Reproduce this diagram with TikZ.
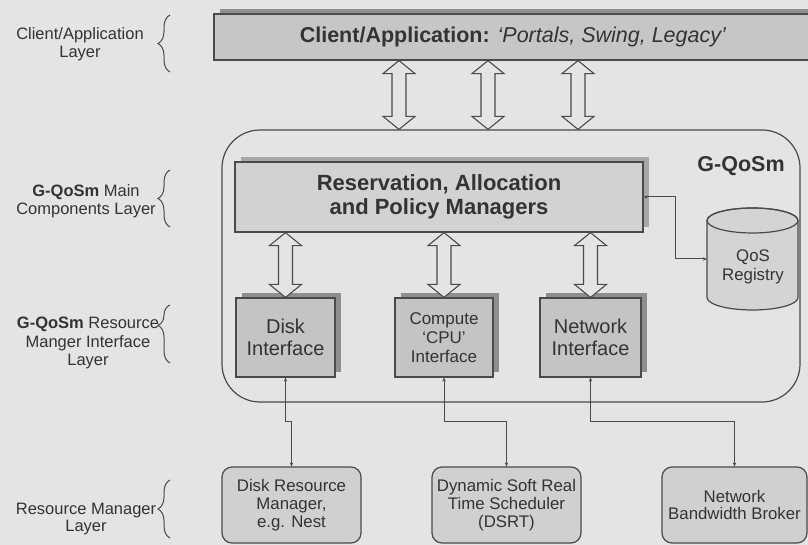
\documentclass[tikz,border=0pt]{standalone}
\usepackage{fontspec}
\setmainfont{Liberation Sans}
\usetikzlibrary{arrows.meta,decorations.pathreplacing,calc}

\definecolor{paper}{HTML}{E4E4E4}
\definecolor{ink}{HTML}{333333}
\definecolor{edge}{HTML}{4A4A4A}
\definecolor{clientfill}{HTML}{C6C6C6}
\definecolor{resfill}{HTML}{D2D2D2}
\definecolor{ifacefill}{HTML}{C4C4C4}
\definecolor{rmfill}{HTML}{D0D0D0}
\definecolor{cylfill}{HTML}{D4D4D4}
\definecolor{shadowdark}{HTML}{8E8E8E}
\definecolor{shadowlight}{HTML}{A8A8A8}

\newcommand\fs[2]{\fontsize{#1}{#2}\selectfont}

\tikzset{
  box/.style={draw=edge, line width=1.2pt, inner sep=0pt, align=center, text=ink},
  castshadow/.style={preaction={fill=#1, transform canvas={xshift=6pt, yshift=5pt}}},
  clientbox/.style={box, fill=clientfill, castshadow=shadowdark},
  resbox/.style={box, fill=resfill, castshadow=shadowlight},
  ifacebox/.style={box, fill=ifacefill, castshadow=shadowdark,
    minimum height=79pt},
  rmbox/.style={box, fill=rmfill, rounded corners=10pt, minimum height=76pt,
    font=\fs{16.8}{18}},
  layerlabel/.style={align=center, text=ink, inner sep=0pt},
  layerbrace/.style={draw=edge, line width=1pt, decorate,
    decoration={brace, amplitude=12pt}},
  harrow/.style={draw=edge, line width=1.1pt, fill=paper, line join=miter},
  conn/.style={draw=edge, line width=1pt,
    {Stealth[length=4pt,width=3.5pt]}-{Stealth[length=4pt,width=3.5pt]}},
}

% hollow two-headed arrow, vertical, between the y of #1 and the point #2
\newcommand\hollowarrow[2]{%
  \draw[harrow] let \p1=(#1), \p2=(#2) in
    (\x2-7pt,\y1-13pt) -- (\x2-16pt,\y1-13pt) -- (\x2,\y1)
    -- (\x2+16pt,\y1-13pt) -- (\x2+7pt,\y1-13pt)
    -- (\x2+7pt,\y2+13pt) -- (\x2+16pt,\y2+13pt) -- (\x2,\y2)
    -- (\x2-16pt,\y2+13pt) -- (\x2-7pt,\y2+13pt) -- cycle;}

\begin{document}
\begin{tikzpicture}[x=1pt,y=-1pt]
\useasboundingbox (0,0) rectangle (808,545);
\fill[paper] (0,0) rectangle (808,545);
\clip (0,0) rectangle (808,545);

% ---- layer labels with braces
\node[layerlabel, font=\fs{16.5}{18}] (lclient) at (80,44)
  {Client/Application\\Layer};
\draw[layerbrace] (170,72) -- (170,15);

\node[layerlabel, font=\fs{16.5}{18}] (lmain) at (86,201)
  {\textbf{G-QoSm} Main\\Components Layer};
\draw[layerbrace] (170,227) -- (170,170);

\node[layerlabel, font=\fs{16.5}{18.5}] (liface) at (88,343)
  {\textbf{G-QoSm} Resource\\Manger Interface\\Layer};
\draw[layerbrace, decoration={brace, amplitude=12pt, aspect=0.65}] (170,363) -- (170,305);

\node[layerlabel, font=\fs{16.5}{17.5}] (lrm) at (86,519)
  {Resource Manager\\Layer};
\draw[layerbrace] (170,538) -- (170,480);

% ---- client / application box
\node[clientbox, minimum width=598pt, minimum height=46pt, font=\fs{21.5}{24}]
  (client) at (513,37)
  {\textbf{Client/Application:} \textit{‘Portals, Swing, Legacy’}};

% ---- G-QoSm container
\node[draw=edge, line width=1.2pt, rounded corners=38pt, inner sep=0pt,
      minimum width=578pt, minimum height=272pt] (gqosm) at (511,266) {};
\node[text=ink, inner sep=0pt, font=\fs{21.5}{24}\bfseries] (gqosmtitle) at (741,166) {G-QoSm};

% ---- managers
\node[resbox, minimum width=408pt, minimum height=70pt, font=\fs{22}{24}\bfseries]
  (res) at (439,197) {Reservation, Allocation\\and Policy Managers};

% ---- interfaces
\node[ifacebox, minimum width=99pt, font=\fs{20}{22}] (disk) at (285.5,337.5)
  {Disk\\Interface};
\node[ifacebox, minimum width=98pt, font=\fs{17}{19}] (cpu) at (444,337.5)
  {Compute\\‘CPU’\\Interface};
\node[ifacebox, minimum width=101pt, font=\fs{20}{22}] (net) at (590.5,337.5)
  {Network\\Interface};

% ---- QoS registry cylinder
\filldraw[draw=edge, fill=cylfill, line width=1.2pt]
  (707,220.5) -- (707,297.5)
  arc[start angle=180, end angle=360, x radius=45.5pt, y radius=12.5pt]
  -- (798,220.5)
  arc[start angle=0, end angle=180, x radius=45.5pt, y radius=12.5pt] -- cycle;
\draw[edge, line width=1.2pt] (752.5,220.5) ellipse[x radius=45.5pt, y radius=12.5pt];
\node[inner sep=0pt, minimum width=91pt, minimum height=102pt] (reg) at (752.5,259) {};
\node[layerlabel, font=\fs{16.8}{19}] (regtext) at (753,267) {QoS\\Registry};

% ---- resource managers
\node[rmbox, minimum width=139pt] (drm) at (291.5,505)
  {Disk Resource\\Manager,\\e.g. Nest};
\node[rmbox, minimum width=149pt] (dsrt) at (506.5,505)
  {Dynamic Soft Real\\Time Scheduler\\(DSRT)};
\node[rmbox, minimum width=145pt, font=\fs{16.8}{17.5}] (nbb) at (734.5,505)
  {Network\\Bandwidth Broker};

% ---- hollow arrows
\hollowarrow{client.south}{[xshift=-112pt]gqosm.north}
\hollowarrow{client.south}{[xshift=-23pt]gqosm.north}
\hollowarrow{client.south}{[xshift=67pt]gqosm.north}
\hollowarrow{res.south}{disk.north}
\hollowarrow{res.south}{cpu.north}
\hollowarrow{res.south}{net.north}

% ---- thin connectors
\draw[conn] (res.east) -- ++(32,0) |- (reg.west);
\draw[conn] (disk.south) -- ++(0,44) -| (drm.north);
\draw[conn] (cpu.south) -- ++(0,44) -| (dsrt.north);
\draw[conn] (net.south) -- ++(0,44) -| (nbb.north);
\end{tikzpicture}
\end{document}
